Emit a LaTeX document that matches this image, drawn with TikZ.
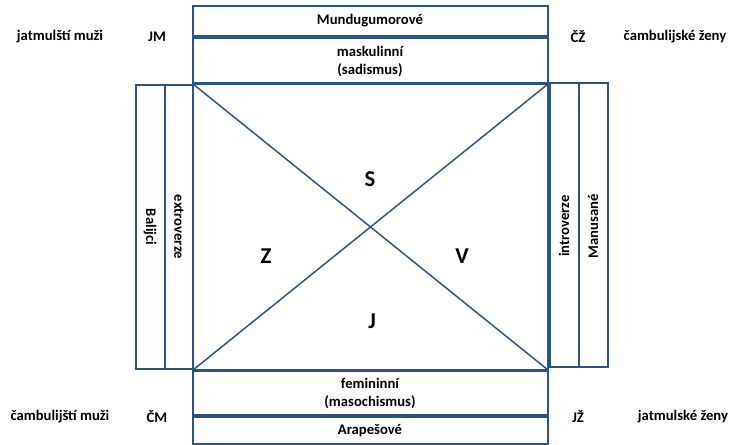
\documentclass[tikz,border=0pt]{standalone}
\usepackage{fontspec}
\setmainfont{Carlito}
\usetikzlibrary{positioning,calc}
\definecolor{boxblue}{RGB}{44,82,140}

\begin{document}
\begin{tikzpicture}[x=0.75pt, y=-0.75pt, font=\bfseries\fontsize{11}{13.5}\selectfont]
\tikzset{
  frame/.style={draw=boxblue, line width=1.5pt},
  diag/.style={draw=boxblue, line width=1.1pt},
  tag/.style={inner sep=0pt, align=center},
  quarter/.style={tag, font=\bfseries\fontsize{17}{19}\selectfont}
}
\useasboundingbox (0,0) rectangle (733,445);

% Corners of the main square
\coordinate (NW) at (193,84);
\coordinate (NE) at (548,84);
\coordinate (SW) at (193,370);
\coordinate (SE) at (548,370);
\draw[frame] (NW) rectangle (SE);

% Diagonals
\draw[diag] (NW) -- (SE);
\draw[diag] (NE) -- (SW);

% Boxes above, below and beside the square
\foreach \xa/\ya/\xb/\yb in {193/6/548/36, 193/38/548/83,
                             193/371/548/415, 193/417/548/444,
                             136/85/165/369, 165/85/193/369,
                             550/83/579/367, 579/83/608/367} {
  \draw[frame] (\xa,\ya) rectangle (\xb,\yb);
}

% Texts in the boxes
\node[tag] (mund) at (370,21) {Mundugumorové};
\node[tag] (mask) at (370,61) {maskulinní\\(sadismus)};
\node[tag] (femi) at (370,393) {femininní\\(masochismus)};
\node[tag] (arap) at (370,431) {Arapešové};
\node[tag, rotate=-90] (bali) at (150,227) {Balijci};
\node[tag, rotate=-90] (extr) at (179,227) {extroverze};
\node[tag, rotate=90] (intr) at (564,226) {introverze};
\node[tag, rotate=90] (manu) at (593,226) {Manusané};

% Quarters of the square
\node[quarter] (S) at (370,179) {S};
\node[quarter] (Z) at (266,256) {Z};
\node[quarter] (V) at (462,256) {V};
\node[quarter] (J) at (372,321) {J};

% Corner labels
\foreach \x/\y/\name/\txt in {60/37/jm/jatmulští muži, 157/37/JM/JM,
                              578/37/CZ/ČŽ, 675/37/cz/čambulijské ženy,
                              60/417/cm/čambulijští muži, 157/417/CM/ČM,
                              578/417/JZ/JŽ, 683/417/jz/jatmulské ženy} {
  \node[tag] (\name) at (\x,\y) {\txt};
}
\end{tikzpicture}
\end{document}
